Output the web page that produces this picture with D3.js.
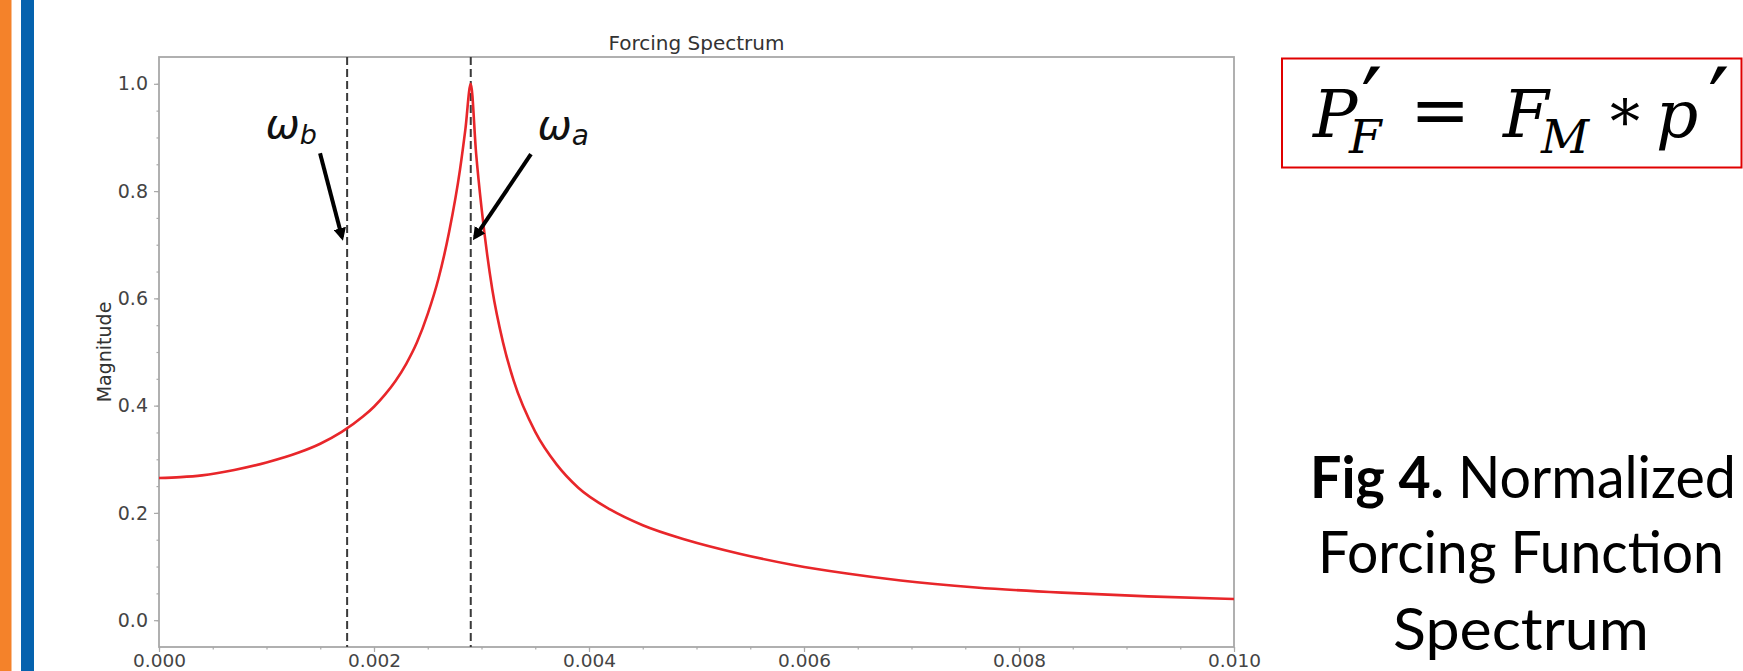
<!DOCTYPE html>
<html>
<head>
<meta charset="utf-8">
<script src="https://cdn.jsdelivr.net/npm/d3@7"></script>
<style>
  html, body { margin: 0; padding: 0; background: #fff; }
  svg { display: block; }
</style>
</head>
<body>
<svg id="chart" width="1743" height="671"></svg>
<script>
// ---------------- data ----------------
const freq = [0.0000, 0.0002, 0.0004, 0.0007, 0.0010, 0.0013, 0.0015, 0.0017, 0.0019, 0.0020,
              0.0021, 0.0022, 0.0023, 0.0024, 0.0025, 0.0026, 0.0027, 0.0028, 0.00285, 0.0029,
              0.00295, 0.0030, 0.0031, 0.0032, 0.0033, 0.0035, 0.0037, 0.0039, 0.0042, 0.0045,
              0.0049, 0.0054, 0.0059, 0.0064, 0.0069, 0.0076, 0.0084, 0.0092, 0.0100];
const magnitude = [0.265, 0.2667, 0.270, 0.280, 0.294, 0.3125, 0.329, 0.351, 0.380, 0.398,
                   0.420, 0.446, 0.478, 0.518, 0.571, 0.637, 0.725, 0.840, 0.915, 1.000,
                   0.870, 0.769, 0.617, 0.518, 0.446, 0.351, 0.290, 0.247, 0.206, 0.177,
                   0.150, 0.124, 0.103, 0.087, 0.074, 0.061, 0.0513, 0.0444, 0.0395];
const xTicks = [0.000, 0.002, 0.004, 0.006, 0.008, 0.010];
const xTickLabels = ["0.000", "0.002", "0.004", "0.006", "0.008", "0.010"];
const yTicks = [0.0, 0.2, 0.4, 0.6, 0.8, 1.0];
const yTickLabels = ["0.0", "0.2", "0.4", "0.6", "0.8", "1.0"];
const markerFreqs = [0.00175, 0.0029];          // ω_b, ω_a
const markerSubs = ["b", "a"];
// annotation text anchor [freq, mag] and arrow [fromFreq, fromMag, toFreq, toMag]
const labelPos = [[0.000990, 0.8985], [0.003520, 0.8966]];
const arrowPos = [[0.001498, 0.8706, 0.001702, 0.7142], [0.003460, 0.8687, 0.002940, 0.7142]];
const chartTitle = "Forcing Spectrum";
const yTitle = "Magnitude";
const captionLines = ["Forcing Function", "Spectrum"];

// ---------------- layout ----------------
const svg = d3.select("#chart");
const x = d3.scaleLinear().domain([0, 0.010]).range([159, 1234]);
const y = d3.scaleLinear().domain([-0.05, 1.05]).range([647, 57]);

// side bars
svg.append("rect").attr("x", 0).attr("y", 0).attr("width", 11.5).attr("height", 671).attr("fill", "#F4822A");
svg.append("rect").attr("x", 21).attr("y", 0).attr("width", 13).attr("height", 671).attr("fill", "#0562AE");

// axes
const tickFont = "'DejaVu Sans', sans-serif";
const gx = svg.append("g").attr("transform", `translate(0,${y.range()[0]})`)
  .call(d3.axisBottom(x).tickValues(xTicks).tickFormat((d, i) => xTickLabels[i]).tickSize(5).tickPadding(2));
const gxm = svg.append("g").attr("transform", `translate(0,${y.range()[0]})`)
  .call(d3.axisBottom(x).tickValues(d3.range(0, 0.01001, 0.0005)).tickFormat("").tickSize(2.5));
const gy = svg.append("g").attr("transform", `translate(${x.range()[0]},0)`)
  .call(d3.axisLeft(y).tickValues(yTicks).tickFormat((d, i) => yTickLabels[i]).tickSize(5).tickPadding(6));
const gym = svg.append("g").attr("transform", `translate(${x.range()[0]},0)`)
  .call(d3.axisLeft(y).tickValues(d3.range(0, 1.0001, 0.05)).tickFormat("").tickSize(2.5));
[gx, gxm, gy, gym].forEach(g => {
  g.select(".domain").remove();
  g.selectAll("line").attr("stroke", "#aaa").attr("stroke-width", 1.2);
  g.selectAll("text").attr("font-family", tickFont).attr("font-size", 19).attr("fill", "#444");
});
gx.selectAll("text").attr("font-size", 18.5).attr("dy", "0.71em");

// frame
svg.append("rect")
  .attr("x", x.range()[0]).attr("y", y.range()[1])
  .attr("width", x.range()[1] - x.range()[0]).attr("height", y.range()[0] - y.range()[1])
  .attr("fill", "none").attr("stroke", "#a8a8a8").attr("stroke-width", 1.8);

// title & y label
svg.append("text").attr("x", (x.range()[0] + x.range()[1]) / 2).attr("y", 50)
  .attr("text-anchor", "middle").attr("font-family", tickFont).attr("font-size", 20).attr("fill", "#333")
  .text(chartTitle);
svg.append("text").attr("transform", `translate(111,352) rotate(-90)`)
  .attr("text-anchor", "middle").attr("font-family", tickFont).attr("font-size", 19).attr("fill", "#333")
  .text(yTitle);

// dashed marker lines
svg.selectAll("line.marker").data(markerFreqs).join("line").attr("class", "marker")
  .attr("x1", d => x(d)).attr("x2", d => x(d))
  .attr("y1", y.range()[1]).attr("y2", y.range()[0])
  .attr("stroke", "#3a3a3a").attr("stroke-width", 2).attr("stroke-dasharray", "8,4");

// curve
const pts = freq.map((f, i) => [f, magnitude[i]]);
svg.append("path").datum(pts)
  .attr("fill", "none").attr("stroke", "#e8262a").attr("stroke-width", 2.6)
  .attr("d", d3.line().x(d => x(d[0])).y(d => y(d[1])).curve(d3.curveMonotoneX));

// arrows
const defs = svg.append("defs");
defs.append("marker").attr("id", "ah").attr("viewBox", "0 0 10 10").attr("refX", 7).attr("refY", 5)
  .attr("markerWidth", 3.2).attr("markerHeight", 3.2).attr("orient", "auto")
  .append("path").attr("d", "M0,0 L10,5 L0,10 Z").attr("fill", "#000");
svg.selectAll("line.arrow").data(arrowPos).join("line").attr("class", "arrow")
  .attr("x1", d => x(d[0])).attr("y1", d => y(d[1]))
  .attr("x2", d => x(d[2])).attr("y2", d => y(d[3]))
  .attr("stroke", "#000").attr("stroke-width", 4).attr("marker-end", "url(#ah)");

// omega labels
labelPos.forEach((p, i) => {
  const t = svg.append("text").attr("x", x(p[0])).attr("y", y(p[1]))
    .attr("font-family", tickFont).attr("font-style", "italic").attr("font-size", 41).attr("fill", "#111");
  t.append("tspan").text("ω");
  t.append("tspan").attr("font-size", i === 0 ? 27 : 28).attr("dy", 6).text(markerSubs[i]);
});

// equation box
svg.append("rect").attr("x", 1282).attr("y", 58.5).attr("width", 459.5).attr("height", 109)
  .attr("fill", "none").attr("stroke", "#e00000").attr("stroke-width", 2);
const eqFont = "'DejaVu Serif', 'Liberation Serif', serif";
const eq = [
  {t: "P", x: 1313, y: 137, s: 66, it: true},
  {t: "F", x: 1349, y: 153, s: 47, it: true},
  {t: "′", x: 1361, y: 136, s: 95, it: false},
  {t: "=", x: 1410, y: 135, s: 72, it: false},
  {t: "F", x: 1503, y: 137, s: 66, it: true},
  {t: "M", x: 1541, y: 153, s: 47, it: true},
  {t: "*", x: 1610, y: 143, s: 60, it: false},
  {t: "p", x: 1656, y: 137, s: 66, it: true},
  {t: "′", x: 1708, y: 136, s: 95, it: false}
];
svg.selectAll("text.eq").data(eq).join("text").attr("class", "eq")
  .attr("x", d => d.x).attr("y", d => d.y).attr("font-family", eqFont)
  .attr("font-style", d => d.it ? "italic" : "normal").attr("font-size", d => d.s).attr("fill", "#000")
  .text(d => d.t);

// caption
const capFont = "Lato, 'Open Sans', sans-serif";
function fitLine(sel, cx, base, target) {
  const w = sel.node().getBBox().width;
  sel.attr("transform", `translate(${cx},${base}) scale(${target / w},1)`);
}
const l1 = svg.append("text").attr("text-anchor", "middle").attr("font-family", capFont).attr("font-size", 58).attr("fill", "#000");
l1.append("tspan").attr("font-weight", "bold").text("Fig 4.");
l1.append("tspan").text(" Normalized");
fitLine(l1, 1523, 498, 426);
const l2 = svg.append("text").attr("text-anchor", "middle").attr("font-family", capFont).attr("font-size", 58).attr("fill", "#000").text(captionLines[0]);
fitLine(l2, 1521, 573, 406);
const l3 = svg.append("text").attr("text-anchor", "middle").attr("font-family", capFont).attr("font-size", 58).attr("fill", "#000").text(captionLines[1]);
fitLine(l3, 1521, 650, 256);
</script>
</body>
</html>
